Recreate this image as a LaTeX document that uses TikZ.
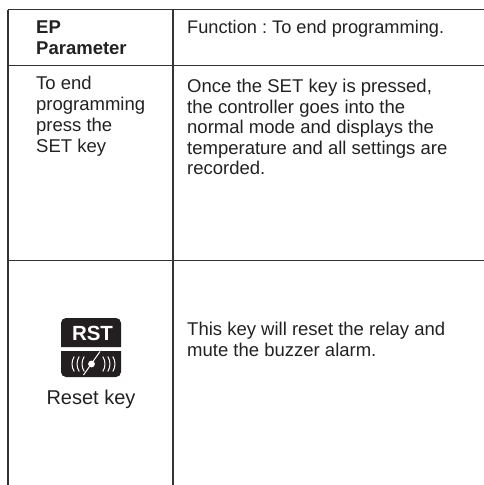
\documentclass[tikz,border=0pt]{standalone}
\usepackage{fontspec}
\setmainfont{Liberation Sans}
\definecolor{ln}{HTML}{333333}
\definecolor{tx}{HTML}{222222}
\definecolor{ic}{HTML}{231F20}
\tikzset{
  rule/.style={draw=ln,line width=1.3pt},
  cell/.style={anchor=base west,inner sep=0pt,align=left,text=tx,font=\fontsize{18.5}{20.5}\selectfont},
  wave/.style={draw=white,line width=1pt},
}
\frenchspacing
\begin{document}
\begin{tikzpicture}[x=1pt,y=-1pt]
\useasboundingbox[fill=white] (0,0) rectangle (484,485);
\coordinate (tl) at (8,9.5);
\coordinate (tr) at (484,9.5);
\coordinate (ml) at (8,65.5);
\coordinate (mr) at (484,65.5);
\coordinate (ll) at (8,260.5);
\coordinate (lr) at (484,260.5);
\coordinate (bl) at (8,485);
\coordinate (vt) at (173,9.5);
\coordinate (vb) at (173,485);
\draw[rule] (tl) -- (tr);
\draw[rule] (ml) -- (mr);
\draw[rule] (ll) -- (lr);
\draw[rule] (tl) -- (bl);
\draw[rule] (vt) -- (vb);
\node[cell,font=\fontsize{18.5}{21}\selectfont\bfseries] (h1) at (36,54) {EP\\Parameter};
\node[cell,font=\fontsize{18.2}{20.8}\selectfont] (h2) at (187,33) {Function : To end programming.};
\node[cell,font=\fontsize{18.5}{21}\selectfont] (c1) at (36,152) {To end\\programming\\press the\\SET key};
\node[cell] (c2) at (187,174.5) {Once the SET key is pressed,\\the controller goes into the\\normal mode and displays the\\temperature and all settings are\\recorded.};
\node[cell] (c3) at (187,356) {This key will reset the relay and\\mute the buzzer alarm.};
\fill[ic] (61,347) -- (61,323) arc (180:270:5) -- (116,318) arc (270:360:5) -- (121,347) -- cycle;
\node[anchor=base,inner sep=0pt,text=white,font=\fontsize{20.5}{20}\selectfont\bfseries] (rst) at (92.5,340) {RST};
\fill[ic] (61,351) -- (121,351) -- (121,372) arc (0:90:5) -- (66,377) arc (90:180:5) -- cycle;
\foreach \x/\s in {72/-1,77/-1,82/-1,115/1,110/1,105/1}{
  \draw[wave] (\x+\s*-2.2,356.5) .. controls (\x+\s*.7,361) and (\x+\s*.7,367) .. (\x+\s*-2.2,371.5);
}
\fill[white] (91.5,364) circle (3.4);
\draw[wave] (83.5,375) -- (100,351.5);
\node[cell,anchor=base,font=\fontsize{20}{22}\selectfont] (rk) at (91,404) {Reset key};
\end{tikzpicture}
\end{document}
